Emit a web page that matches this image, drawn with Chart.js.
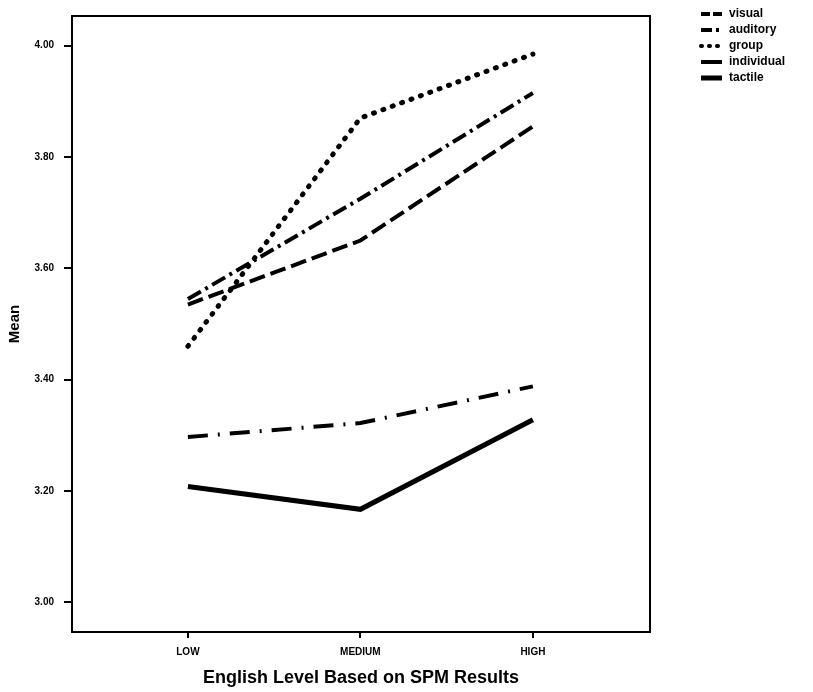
<!DOCTYPE html>
<html>
<head>
<meta charset="utf-8">
<script src="https://cdn.jsdelivr.net/npm/chart.js@4"></script>
<style>
  html, body { margin: 0; padding: 0; background: #fff; }
  #wrap { width: 813px; height: 692px; position: relative; }
</style>
</head>
<body>
<div id="wrap"><canvas id="chart" width="813" height="692"></canvas></div>
<script>
// ── DATA ─────────────────────────────────────────────
const levels     = ['LOW', 'MEDIUM', 'HIGH'];
const yTicks     = [3.0, 3.2, 3.4, 3.6, 3.8, 4.0];
const visual     = [3.535, 3.65, 3.855];
const auditory   = [3.545, 3.725, 3.915];
const group      = [3.46, 3.87, 3.985];
const individual = [3.297, 3.322, 3.388];
const tactile    = [3.208, 3.167, 3.328];

const FONT = '"Liberation Sans", Arial, sans-serif';

// dash = pattern on the plot, key = pattern of the legend sample
const SERIES = [
  { label: 'visual',     data: visual,     dash: [16, 6],         key: [9, 3],       width: 4,   cap: 'butt'  },
  { label: 'auditory',   data: auditory,   dash: [15, 5, 3, 5],   key: [11, 4, 3, 6], width: 4,   cap: 'butt'  },
  { label: 'group',      data: group,      dash: [1, 9],          key: [1, 7],       width: 5,   cap: 'round' },
  { label: 'individual', data: individual, dash: [20, 10, 2, 10], key: [],           width: 4,   cap: 'butt'  },
  { label: 'tactile',    data: tactile,    dash: [],              key: [],           width: 5,   cap: 'butt'  },
];

const datasets = SERIES.map(s => ({
  label: s.label,
  data: s.data.map((v, i) => ({ x: i, y: v })),
  borderColor: '#000',
  borderWidth: s.width,
  borderDash: s.dash,
  borderCapStyle: s.cap,
  pointRadius: 0,
  fill: false,
  tension: 0,
}));

// frame round the plot area
const framePlugin = {
  id: 'frame',
  afterDatasetsDraw(chart) {
    const { ctx, chartArea: a } = chart;
    ctx.save();
    ctx.strokeStyle = '#000';
    ctx.lineWidth = 2;
    ctx.strokeRect(a.left, a.top, a.right - a.left, a.bottom - a.top);
    ctx.restore();
  }
};

// legend drawn top right
const legendPlugin = {
  id: 'sideLegend',
  afterDraw(chart) {
    const ctx = chart.ctx;
    ctx.save();
    ctx.font = 'bold 12px ' + FONT;
    ctx.textBaseline = 'middle';
    ctx.fillStyle = '#000';
    chart.data.datasets.forEach((ds, i) => {
      const y = 14 + i * 16;
      ctx.beginPath();
      ctx.setLineDash(SERIES[i].key);
      ctx.lineCap = SERIES[i].cap;
      ctx.lineWidth = i === 4 ? 5 : 4;
      ctx.strokeStyle = '#000';
      ctx.moveTo(701, y);
      ctx.lineTo(722, y);
      ctx.stroke();
      ctx.setLineDash([]);
      ctx.fillText(ds.label, 729, y);
    });
    ctx.restore();
  }
};

new Chart(document.getElementById('chart'), {
  type: 'line',
  data: { datasets },
  plugins: [framePlugin, legendPlugin],
  options: {
    responsive: false,
    animation: false,
    layout: { padding: { left: 0, top: 10, right: 163, bottom: 0 } },
    plugins: { legend: { display: false }, tooltip: { enabled: false } },
    scales: {
      x: {
        type: 'linear',
        min: -0.672,
        max: 2.679,
        afterBuildTicks: sc => { sc.ticks = levels.map((_, i) => ({ value: i })); },
        afterFit: sc => { sc.height = 60; },
        ticks: {
          color: '#000',
          padding: 8,
          maxRotation: 0,
          font: { family: FONT, size: 10, weight: 'bold' },
          callback: v => levels[v] ?? ''
        },
        grid: { drawOnChartArea: false, drawTicks: true, tickLength: 6, color: '#000', lineWidth: 2 },
        border: { display: true, color: '#000', width: 2 },
        title: {
          display: true,
          text: 'English Level Based on SPM Results',
          color: '#000',
          font: { family: FONT, size: 18, weight: 'bold' },
          padding: { top: 2, bottom: 3 }
        }
      },
      y: {
        min: 2.9466,
        max: 4.0534,
        afterBuildTicks: sc => { sc.ticks = yTicks.map(v => ({ value: v })); },
        afterFit: sc => { sc.width = 72; },
        ticks: {
          color: '#000',
          padding: 10,
          font: { family: FONT, size: 10, weight: 'bold' },
          callback: v => Number(v).toFixed(2)
        },
        grid: { drawOnChartArea: false, drawTicks: true, tickLength: 8, color: '#000', lineWidth: 2 },
        border: { display: true, color: '#000', width: 2 },
        title: {
          display: true,
          text: 'Mean',
          color: '#000',
          font: { family: FONT, size: 15, weight: 'bold' },
          padding: { top: 6, bottom: 0 }
        }
      }
    }
  }
});
</script>
</body>
</html>
